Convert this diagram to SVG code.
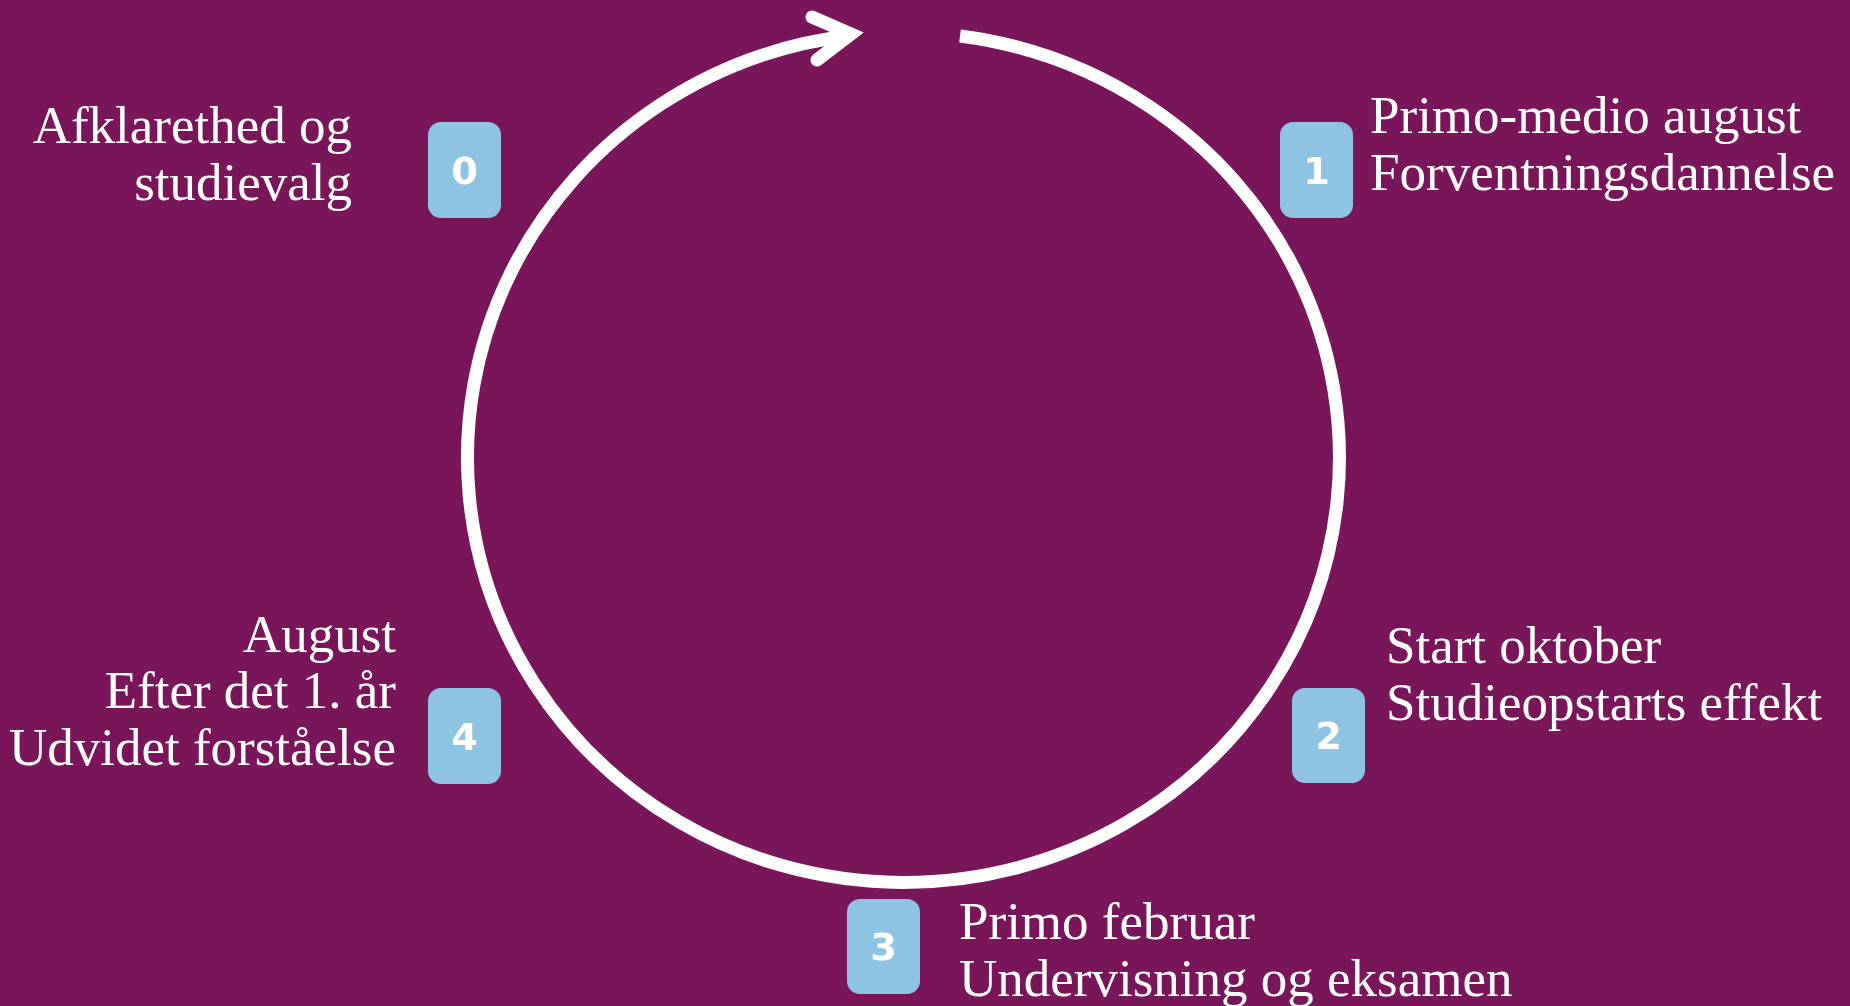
<svg xmlns="http://www.w3.org/2000/svg" width="1850" height="1006" viewBox="0 0 1850 1006">
  <style>
    .bg { fill: #79165A; }
    .box { fill: #8EC4E1; }
    .num { font-family: "DejaVu Sans", "Liberation Sans", sans-serif; font-weight: bold; font-size: 38px; fill: #FFFFFF; text-anchor: middle; }
    .lbl { font-family: "Liberation Serif", "DejaVu Serif", serif; font-size: 53px; fill: #FFFFFF; }
    .end { text-anchor: end; }
    .cycle { fill: none; stroke: #FFFFFF; stroke-width: 13; }
  </style>
  <rect class="bg" x="0" y="0" width="1850" height="1006"/>

  <g id="connectors">
    <path class="cycle" d="M960,36 A436,425 0 1 1 851,35.5" stroke-linecap="butt"/>
    <path class="cycle" d="M812,17 L851,34 L817,60" stroke-linecap="round" stroke-linejoin="miter" stroke-miterlimit="10"/>
  </g>

  <g id="node0">
    <rect class="box" x="428" y="122" width="73" height="96" rx="13"/>
    <text class="num" x="464.5" y="184">0</text>
    <text class="lbl end" x="352" y="143">Afklarethed og</text>
    <text class="lbl end" x="352" y="200">studievalg</text>
  </g>

  <g id="node1">
    <rect class="box" x="1280" y="122" width="73" height="96" rx="13"/>
    <text class="num" x="1316.5" y="184">1</text>
    <text class="lbl" x="1370" y="133">Primo-medio august</text>
    <text class="lbl" x="1370" y="190">Forventningsdannelse</text>
  </g>

  <g id="node2">
    <rect class="box" x="1292" y="688" width="73" height="95" rx="13"/>
    <text class="num" x="1328.5" y="749">2</text>
    <text class="lbl" x="1386" y="663">Start oktober</text>
    <text class="lbl" x="1386" y="720">Studieopstarts effekt</text>
  </g>

  <g id="node3">
    <rect class="box" x="847" y="899" width="73" height="95" rx="13"/>
    <text class="num" x="883.5" y="960">3</text>
    <text class="lbl" x="959" y="939">Primo februar</text>
    <text class="lbl" x="959" y="996">Undervisning og eksamen</text>
  </g>

  <g id="node4">
    <rect class="box" x="428" y="688" width="73" height="96" rx="13"/>
    <text class="num" x="464.5" y="750">4</text>
    <text class="lbl end" x="396" y="652">August</text>
    <text class="lbl end" x="396" y="708">Efter det 1. år</text>
    <text class="lbl end" x="396" y="765">Udvidet forståelse</text>
  </g>
</svg>
